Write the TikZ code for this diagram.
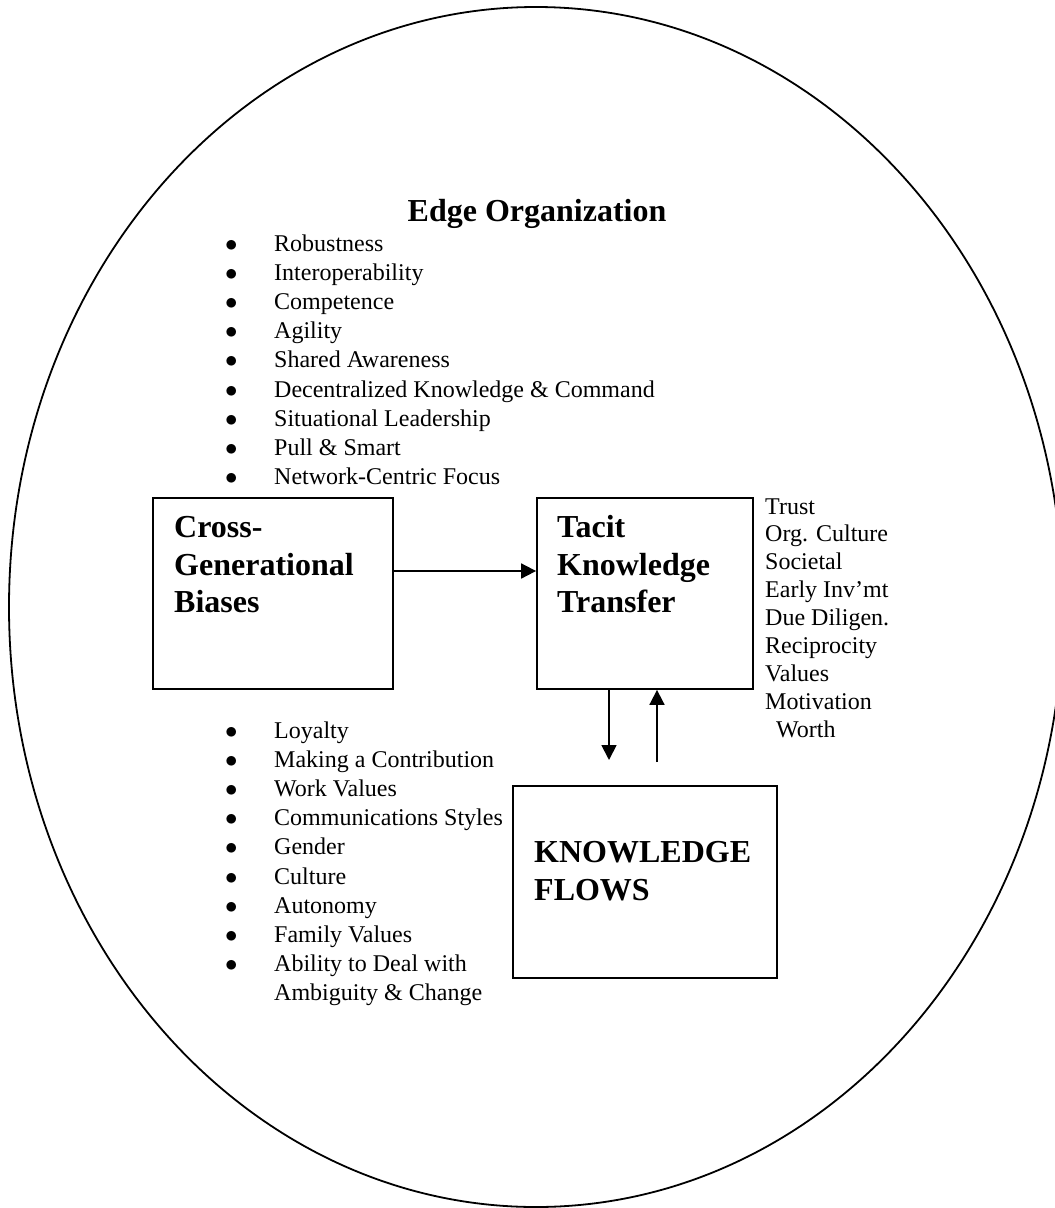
\documentclass[tikz,border=0pt]{standalone}
\usepackage{fontspec}
\setmainfont{Liberation Serif}
\usepackage{tikz}
\usetikzlibrary{arrows.meta}
\newcommand{\bul}{\makebox[46pt][l]{\hspace*{-3pt}$\bullet$}}
\newcommand{\ind}{\hspace*{46pt}}

\begin{document}
\begin{tikzpicture}[x=1pt, y=-1pt,
    box/.style={draw, line width=1.8pt, inner sep=0pt},
    bigtext/.style={anchor=base west, inner sep=0pt, font=\fontsize{32}{37.5}\selectfont\bfseries},
    listtext/.style={anchor=base west, inner sep=0pt, font=\fontsize{24}{29.2}\selectfont},
    arr/.style={-{Triangle[length=15pt, width=15pt]}, line width=1.8pt}]
                \useasboundingbox (0,0) rectangle (1055,1208);
                \clip (0,0) rectangle (1055,1208);

                % Outer ellipse
                \draw[line width=1.8pt] (536,607) ellipse [x radius=527pt, y radius=600pt];

                % Edge organization heading and list
                \node[bigtext, anchor=base] (edge) at (537,221) {Edge Organization};
                \node[listtext] (edgelist) at (228,251) {\begin{tabular}[t]{@{}l@{}}
                    \bul Robustness\\
                    \bul Interoperability\\
                    \bul Competence\\
                    \bul Agility\\
                    \bul Shared Awareness\\
                    \bul Decentralized Knowledge \& Command\\
                    \bul Situational Leadership\\
                    \bul Pull \& Smart\\
                    \bul Network-Centric Focus
                \end{tabular}};

                % Boxes
                \node[box, minimum width=240pt, minimum height=191pt] (cross) at (273,593.5) {};
                \node[box, minimum width=216pt, minimum height=191pt] (tacit) at (645,593.5) {};
                \node[box, minimum width=264pt, minimum height=192pt] (flows) at (645,882) {};

                \node[bigtext] (crosstext) at (174,537.7) {\begin{tabular}[t]{@{}l@{}}Cross-\\Generational\\Biases\end{tabular}};
                \node[bigtext] (tacittext) at (557,537.7) {\begin{tabular}[t]{@{}l@{}}Tacit\\Knowledge\\Transfer\end{tabular}};
                \node[bigtext] (flowstext) at (534,862.7) {\begin{tabular}[t]{@{}l@{}}KNOWLEDGE\\FLOWS\end{tabular}};

                % Factors next to tacit box
                \node[listtext, font=\fontsize{24}{27.9}\selectfont] (factors) at (765,514) {\begin{tabular}[t]{@{}l@{}}
                    Trust\\
                    Org. Culture\\
                    Societal\\
                    Early Inv'mt\\
                    Due Diligen.\\
                    Reciprocity\\
                    Values\\
                    Motivation\\
                    \hspace*{11pt}Worth
                \end{tabular}};

                % Generational list
                \node[listtext] (genlist) at (228,738) {\begin{tabular}[t]{@{}l@{}}
                    \bul Loyalty\\
                    \bul Making a Contribution\\
                    \bul Work Values\\
                    \bul Communications Styles\\
                    \bul Gender\\
                    \bul Culture\\
                    \bul Autonomy\\
                    \bul Family Values\\
                    \bul Ability to Deal with\\
                    \ind Ambiguity \& Change
                \end{tabular}};

                % Arrows
                \coordinate (down) at (609,760);
                \coordinate (up) at (657,762);
                \draw[arr] ([yshift=22.5pt]cross.east) -- ([yshift=22.5pt]tacit.west);
                \draw[arr] (tacit.south -| down) -- (down);
                \draw[arr] (up) -- (tacit.south -| up);
\end{tikzpicture}
\end{document}
